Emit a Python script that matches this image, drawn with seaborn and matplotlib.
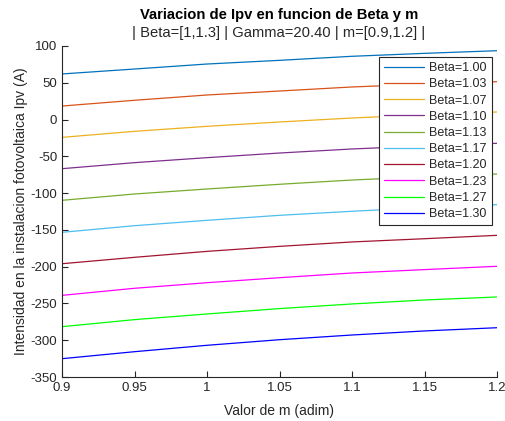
import numpy as np
import pandas as pd
import matplotlib
matplotlib.use("Agg")
import matplotlib.pyplot as plt
import seaborn as sns

m_values = [0.9, 0.95, 1.0, 1.05, 1.1, 1.15, 1.2]
beta_labels = ["Beta=1.00", "Beta=1.03", "Beta=1.07", "Beta=1.10", "Beta=1.13",
               "Beta=1.17", "Beta=1.20", "Beta=1.23", "Beta=1.27", "Beta=1.30"]
ipv_b100 = [62, 68.7, 75.5, 80.5, 86, 90, 93.6]
ipv_b103 = [18.4, 26.2, 33.4, 38.8, 44.3, 48.2, 51.5]
ipv_b107 = [-24.2, -16, -9.2, -3.3, 2.1, 6.5, 10.3]
ipv_b110 = [-66.8, -58.6, -51.8, -45.5, -40, -35.8, -32.3]
ipv_b113 = [-109.8, -101.2, -94.4, -88, -82.2, -77.8, -74]
ipv_b117 = [-153.3, -144.3, -137, -130.2, -124.7, -119.8, -115.7]
ipv_b120 = [-196, -187.3, -179.2, -172.4, -166.4, -162, -157.4]
ipv_b123 = [-239, -229.4, -221.8, -215, -208.6, -204, -199.5]
ipv_b127 = [-281.6, -272, -264.3, -257, -250.7, -245.3, -241.2]
ipv_b130 = [-325.1, -315.6, -306.9, -299.3, -292.9, -287.4, -283]
series = [ipv_b100, ipv_b103, ipv_b107, ipv_b110, ipv_b113,
          ipv_b117, ipv_b120, ipv_b123, ipv_b127, ipv_b130]
colors = ["#0072BD", "#D95319", "#EDB120", "#7E2F8E", "#77AC30",
          "#4DBEEE", "#A2142F", "#FF00FF", "#00FF00", "#0000FF"]

rows = []
for lab, vals in zip(beta_labels, series):
    for m, v in zip(m_values, vals):
        rows.append({"m": m, "Ipv": v, "Beta": lab})
df = pd.DataFrame(rows)

sns.set_style("ticks")
plt.rcParams["font.family"] = ["Liberation Sans", "DejaVu Sans"]
plt.rcParams["axes.unicode_minus"] = False

fig = plt.figure(figsize=(5.05, 4.21), dpi=100)
ax = fig.add_axes([62/505, 1-377/421, 435/505, 331/421])
sns.lineplot(data=df, x="m", y="Ipv", hue="Beta", palette=colors,
             hue_order=beta_labels, ax=ax, linewidth=0.9, legend=False)

ax.set_xlim(0.9, 1.2)
ax.set_ylim(-350, 100)
ax.set_xticks([0.9, 0.95, 1.0, 1.05, 1.1, 1.15, 1.2])
ax.set_xticklabels(["0.9", "0.95", "1", "1.05", "1.1", "1.15", "1.2"])
ax.set_yticks(np.arange(-350, 101, 50))
ax.tick_params(direction="in", length=4, width=0.8, labelsize=9.5,
               colors="#262626", labelcolor="#262626")
for s in ["top", "right"]:
    ax.spines[s].set_visible(False)
for s in ["left", "bottom"]:
    ax.spines[s].set_color("#262626")
    ax.spines[s].set_linewidth(0.8)
ax.set_xlabel("Valor de m (adim)", fontsize=10, color="#262626", labelpad=7)
ax.set_ylabel("Intensidad en la instalacion fotovoltaica Ipv (A)", fontsize=10,
              color="#262626", labelpad=2)

fig.text(279/505, 1-15/421, "Variacion de Ipv en funcion de Beta y m",
         ha="center", va="center", fontsize=10.6, fontweight="bold", color="black")
fig.text(279/505, 1-33/421, "| Beta=[1,1.3] | Gamma=20.40 | m=[0.9,1.2] |",
         ha="center", va="center", fontsize=10.6, color="#262626")

leg = ax.legend(ax.get_lines()[:10], beta_labels, loc="upper left",
                bbox_to_anchor=((379-62)/435, 1-(57-46)/331),
                fontsize=9, frameon=True, fancybox=False, borderpad=0.4,
                labelspacing=0.34, handlelength=3.2, handletextpad=0.4,
                borderaxespad=0)
leg.get_frame().set_edgecolor("#262626")
leg.get_frame().set_linewidth(0.8)
leg.get_frame().set_alpha(1)

fig.savefig("out.png", dpi=100)
